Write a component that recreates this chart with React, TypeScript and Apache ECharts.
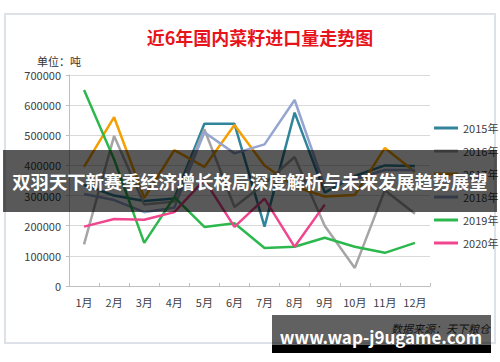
import React, { useEffect, useRef } from "react";
import * as echarts from "echarts";

const months = ["1月", "2月", "3月", "4月", "5月", "6月", "7月", "8月", "9月", "10月", "11月", "12月"];
const yearNames = ["2015年", "2016年", "2017年", "2018年", "2019年", "2020年"];
const s2015 = [335000, 300000, 282000, 290000, 538000, 538000, 197000, 575000, 310000, 365000, 400000, 398000];
const s2016 = [138000, 498000, 270000, 280000, 520000, 262000, 340000, 428000, 200000, 60000, 318000, 240000];
const s2017 = [395000, 560000, 292000, 451000, 395000, 534000, 400000, 330000, 297000, 302000, 458000, 378000];
const s2018 = [305000, 285000, 245000, 260000, 510000, 440000, 470000, 617000, 330000, 355000, 385000, 385000];
const s2019 = [650000, 420000, 143000, 295000, 196000, 208000, 126000, 130000, 160000, 130000, 110000, 143000];
const s2020 = [197000, 222000, 220000, 245000, 352000, 196000, 290000, 130000, 270000];
const colors = ["#31849b", "#a5a5a5", "#f5a000", "#95a5cf", "#2db84d", "#f0468e"];

const titleText = "近6年国内菜籽进口量走势图";
const unitText = "单位：吨";
const bannerText = "双羽天下新赛季经济增长格局深度解析与未来发展趋势展望";
const siteText = "www.wap-j9ugame.com";
const sourceText = "数据来源：天下粮仓";

const FONT = "'Noto Sans CJK SC', 'Noto Sans', sans-serif";

export default function App() {
  const ref = useRef<HTMLDivElement>(null);
  useEffect(() => {
    if (!ref.current) return;
    const chart = echarts.init(ref.current, undefined, { renderer: "svg" });
    const all = [s2015, s2016, s2017, s2018, s2019, s2020];
    chart.setOption({
      animation: false,
      backgroundColor: "#ffffff",
      textStyle: { fontFamily: FONT },
      grid: { left: 69, right: 70, top: 75, bottom: 76 },
      legend: {
        orient: "vertical",
        left: 429,
        top: 117,
        itemWidth: 24,
        itemHeight: 3,
        itemGap: 11,
        icon: "rect",
        textStyle: { fontSize: 11, color: "#404040", lineHeight: 12, fontFamily: FONT },
        data: yearNames,
      },
      xAxis: {
        type: "category",
        data: months,
        boundaryGap: true,
        axisLine: { lineStyle: { color: "#bfbfbf", width: 1 } },
        axisTick: { show: true, inside: true, length: 3, lineStyle: { color: "#bfbfbf" } },
        axisLabel: { fontSize: 11, color: "#404040", margin: 10, interval: 0, fontFamily: FONT },
      },
      yAxis: {
        type: "value",
        min: 0,
        max: 700000,
        interval: 100000,
        axisLine: { show: true, lineStyle: { color: "#bfbfbf" } },
        axisTick: { show: true, length: 3, lineStyle: { color: "#bfbfbf" } },
        axisLabel: {
          fontSize: 11,
          color: "#404040",
          margin: 8,
          fontFamily: FONT,
          formatter: (v: number) => String(v),
        },
        splitLine: { lineStyle: { color: "#d9d9d9" } },
      },
      series: all.map((d, i) => ({
        name: yearNames[i],
        type: "line",
        data: d,
        symbol: "none",
        z: 3,
        lineStyle: { width: 2.5, color: colors[i] },
        itemStyle: { color: colors[i] },
      })),
      graphic: [
        {
          type: "rect",
          z: -10,
          silent: true,
          shape: { x: 5, y: 14, width: 490, height: 329 },
          style: { fill: "#ffffff", stroke: "#dde2e8", lineWidth: 2 },
        },
        {
          type: "text",
          z: 5,
          x: 260,
          y: 37,
          style: {
            text: titleText,
            fill: "#e8141c",
            font: `bold 18px ${FONT}`,
            textAlign: "center",
            textVerticalAlign: "middle",
          },
        },
        {
          type: "text",
          z: 5,
          x: 37,
          y: 61,
          style: {
            text: unitText,
            fill: "#333333",
            font: `11px ${FONT}`,
            textAlign: "left",
            textVerticalAlign: "middle",
          },
        },
        {
          type: "text",
          z: 5,
          x: 490,
          y: 328,
          style: {
            text: sourceText,
            fill: "#333333",
            font: `italic 11px ${FONT}`,
            textAlign: "right",
            textVerticalAlign: "middle",
          },
        },
        {
          type: "rect",
          z: 100,
          silent: true,
          shape: { x: 3, y: 150, width: 494, height: 62 },
          style: { fill: "rgba(0,0,0,0.65)" },
        },
        {
          type: "text",
          z: 101,
          x: 250,
          y: 181,
          style: {
            text: bannerText,
            fill: "#ffffff",
            font: `bold 18.3px ${FONT}`,
            textAlign: "center",
            textVerticalAlign: "middle",
          },
        },
        {
          type: "rect",
          z: 100,
          silent: true,
          shape: { x: 272, y: 315, width: 219, height: 30 },
          style: { fill: "rgba(0,0,0,0.62)" },
        },
        {
          type: "rect",
          z: 100,
          silent: true,
          shape: { x: 272, y: 345, width: 219, height: 8 },
          style: { fill: "#000000" },
        },
        {
          type: "text",
          z: 101,
          x: 381,
          y: 336,
          style: {
            text: siteText,
            fill: "#ffffff",
            font: `bold 17px ${FONT}`,
            textAlign: "center",
            textVerticalAlign: "middle",
          },
        },
      ],
    });
    return () => chart.dispose();
  }, []);
  return (
    <div
      ref={ref}
      style={{ position: "fixed", left: 0, top: 0, width: 500, height: 362 }}
    />
  );
}
